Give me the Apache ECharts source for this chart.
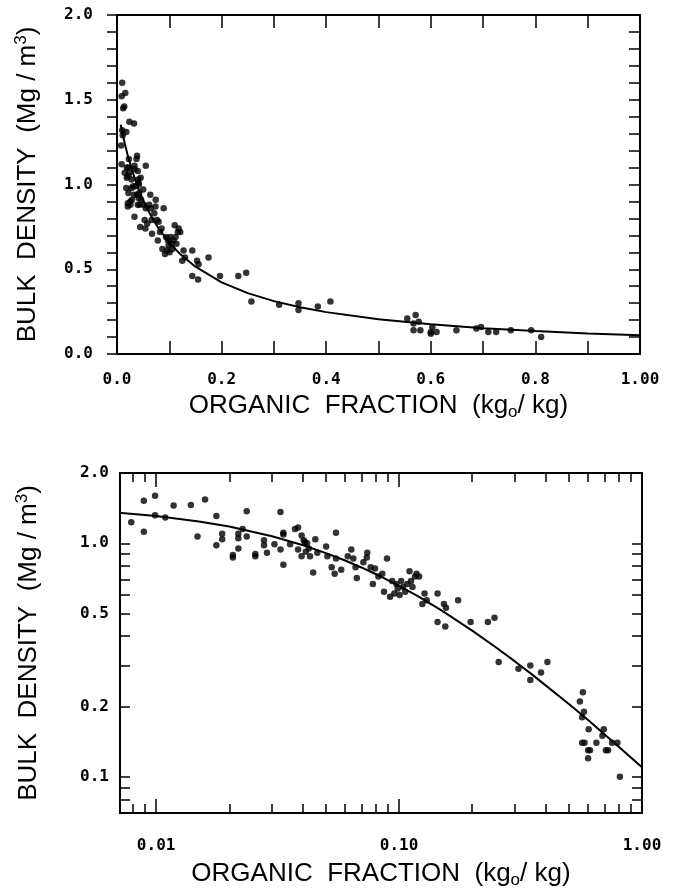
<!DOCTYPE html>
<html>
<head>
<meta charset="utf-8">
<script src="https://cdn.jsdelivr.net/npm/echarts@6/dist/echarts.min.js"></script>
<style>
  html, body { margin: 0; padding: 0; background: #fff; }
  #bulk-density { width: 674px; height: 890px; }
</style>
</head>
<body>
<div id="bulk-density"></div>
<script>
// measured samples (kg organic / kg, Mg/m3)
const organicFraction = [
  0.0079, 0.0089, 0.0089, 0.0099, 0.0099, 0.0109, 0.0118, 0.0139, 0.0148, 0.0159,
  0.0177, 0.0177, 0.0187, 0.0187, 0.0207, 0.0207, 0.0218, 0.0218, 0.0218, 0.0227,
  0.0236, 0.0236, 0.0256, 0.0256, 0.0278, 0.0278, 0.0286, 0.0307, 0.0325, 0.0325,
  0.0334, 0.0334, 0.0334, 0.0356, 0.0373, 0.0384, 0.0384, 0.0397, 0.0397, 0.0405,
  0.0410, 0.0413, 0.0418, 0.0425, 0.0430, 0.0443, 0.0452, 0.0461, 0.0501, 0.0507,
  0.0528, 0.0543, 0.0550, 0.0550, 0.0578, 0.0615, 0.0636, 0.0648, 0.0662, 0.0670,
  0.0713, 0.0736, 0.0740, 0.0764, 0.0780, 0.0796, 0.0822, 0.0853, 0.0867, 0.0892,
  0.0918, 0.0937, 0.0956, 0.0975, 0.0987, 0.1005, 0.1020, 0.1038, 0.1060, 0.1080,
  0.1104, 0.1120, 0.1136, 0.1164, 0.1180, 0.1209, 0.1247, 0.1273, 0.1300, 0.144,
  0.144, 0.153, 0.155, 0.156, 0.175, 0.197, 0.232, 0.247, 0.257, 0.310,
  0.347, 0.347, 0.384, 0.408, 0.555, 0.571, 0.567, 0.577, 0.567, 0.580,
  0.603, 0.600, 0.611, 0.600, 0.649, 0.687, 0.696, 0.710, 0.725, 0.753,
  0.792, 0.811
];
const bulkDensity = [
  1.23, 1.52, 1.12, 1.60, 1.32, 1.29, 1.45, 1.46, 1.07, 1.54,
  1.31, 0.98, 1.10, 1.04, 0.87, 0.89, 0.95, 1.10, 1.05, 1.15,
  1.37, 1.07, 0.90, 0.88, 1.03, 0.98, 0.91, 0.99, 1.36, 0.94,
  1.11, 1.09, 0.81, 0.99, 1.15, 1.17, 0.94, 1.08, 0.88, 1.03,
  1.01, 0.92, 1.00, 0.95, 0.88, 0.75, 1.04, 0.91, 0.97, 0.88,
  0.79, 0.74, 1.11, 0.86, 0.77, 0.88, 0.94, 0.86, 0.79, 0.71,
  0.83, 0.87, 0.91, 0.79, 0.67, 0.78, 0.72, 0.74, 0.62, 0.86,
  0.59, 0.69, 0.61, 0.67, 0.64, 0.60, 0.69, 0.65, 0.62, 0.67,
  0.76, 0.69, 0.65, 0.72, 0.74, 0.72, 0.55, 0.61, 0.57, 0.61,
  0.46, 0.55, 0.44, 0.53, 0.57, 0.46, 0.46, 0.48, 0.31, 0.29,
  0.30, 0.26, 0.28, 0.31, 0.21, 0.23, 0.18, 0.19, 0.14, 0.14,
  0.16, 0.13, 0.13, 0.12, 0.14, 0.15, 0.16, 0.13, 0.13, 0.14,
  0.14, 0.10
];

// fitted curve
const fitFraction = [0.007, 0.01, 0.015, 0.02, 0.03, 0.04, 0.05, 0.06, 0.07, 0.08, 0.1, 0.12,
  0.15, 0.2, 0.25, 0.3, 0.35, 0.4, 0.5, 0.6, 0.7, 0.8, 0.9, 1.0];
const fitDensity = [1.353, 1.308, 1.240, 1.179, 1.072, 0.984, 0.908, 0.844, 0.788, 0.739, 0.657, 0.592,
  0.515, 0.423, 0.359, 0.312, 0.276, 0.247, 0.205, 0.175, 0.152, 0.135, 0.121, 0.110];

// linear plot ticks / labels
const linXTicks = [0, 0.1, 0.2, 0.3, 0.4, 0.5, 0.6, 0.7, 0.8, 0.9, 1.0];
const linXLabels = [0, 0.2, 0.4, 0.6, 0.8, 1.0];
const linYTicks = [0, 0.1, 0.2, 0.3, 0.4, 0.5, 0.6, 0.7, 0.8, 0.9, 1.0, 1.1, 1.2, 1.3, 1.4, 1.5, 1.6, 1.7, 1.8, 1.9, 2.0];
const linYLabels = [0, 0.5, 1.0, 1.5, 2.0];

// log plot ticks / labels
const logXTicks = [0.008, 0.009, 0.02, 0.03, 0.04, 0.05, 0.06, 0.07, 0.08, 0.09,
  0.2, 0.3, 0.4, 0.5, 0.6, 0.7, 0.8, 0.9];
const logXMajorTicks = [0.01, 0.1];
const logXLabels = [0.01, 0.1, 1.0];
const logYTicks = [0.08, 0.09, 0.1, 0.2, 0.3, 0.4, 0.5, 0.6, 0.7, 0.8, 0.9, 1.0];
const logYLabels = [0.1, 0.2, 0.5, 1.0, 2.0];

const points = organicFraction.map((x, i) => [x, bulkDensity[i]]);
const fitLine = fitFraction.map((x, i) => [x, fitDensity[i]]);

const labelFont = {
  color: '#000',
  fontFamily: 'DejaVu Sans Mono',
  fontWeight: 'bold',
  fontSize: 16
};
const nameFont = {
  color: '#000',
  fontFamily: 'Liberation Sans',
  fontSize: 26,
  lineHeight: 30,
  rich: {
    sup: { fontFamily: 'Liberation Sans', fontSize: 17, lineHeight: 16, verticalAlign: 'top', color: '#000' },
    sub: { fontFamily: 'Liberation Sans', fontSize: 17, lineHeight: 16, verticalAlign: 'bottom', color: '#000' }
  }
};
const xName = 'ORGANIC  FRACTION  (kg{sub|o}/ kg)';
const yName = 'BULK  DENSITY  (Mg / m{sup|3})';
const tickLine = { color: '#000', width: 1.5 };

function axisBase(gridIndex, position, extra) {
  return Object.assign({
    gridIndex: gridIndex,
    position: position,
    axisLine: { show: true, onZero: false, lineStyle: { color: '#000', width: 2 } },
    splitLine: { show: false },
    axisLabel: { show: false }
  }, extra);
}

let chart = echarts.init(document.getElementById('bulk-density'));
const option = {
  animation: false,
  backgroundColor: '#fff',
  grid: [
    { left: 117, top: 15, width: 523, height: 339 },
    { left: 120, top: 473, width: 522, height: 340 }
  ],
  xAxis: [
    axisBase(0, 'bottom', {
      type: 'value', min: 0, max: 1,
      axisTick: { inside: true, length: 13, customValues: linXTicks, lineStyle: tickLine },
      axisLabel: Object.assign({
        show: true, margin: 18, customValues: linXLabels,
        formatter: v => (v === 1 ? '1.00' : v.toFixed(1))
      }, labelFont),
      name: xName, nameLocation: 'middle', nameGap: 37, nameTextStyle: nameFont
    }),
    axisBase(0, 'top', {
      type: 'value', min: 0, max: 1,
      axisTick: { inside: true, length: 13, customValues: linXTicks, lineStyle: tickLine }
    }),
    axisBase(1, 'bottom', {
      type: 'log', logBase: 10, min: 0.0071, max: 1,
      axisTick: { inside: true, length: 9, customValues: logXTicks, lineStyle: tickLine },
      axisLabel: Object.assign({
        show: true, margin: 25, customValues: logXLabels,
        formatter: v => v.toFixed(2)
      }, labelFont),
      name: xName, nameLocation: 'middle', nameGap: 46, nameTextStyle: nameFont
    }),
    axisBase(1, 'top', {
      type: 'log', logBase: 10, min: 0.0071, max: 1,
      axisTick: { inside: true, length: 9, customValues: logXTicks, lineStyle: tickLine }
    }),
    // longer decade ticks
    axisBase(1, 'bottom', {
      type: 'log', logBase: 10, min: 0.0071, max: 1,
      axisTick: { inside: true, length: 14, customValues: logXMajorTicks, lineStyle: tickLine }
    }),
    axisBase(1, 'top', {
      type: 'log', logBase: 10, min: 0.0071, max: 1,
      axisTick: { inside: true, length: 14, customValues: logXMajorTicks, lineStyle: tickLine }
    })
  ],
  yAxis: [
    axisBase(0, 'left', {
      type: 'value', min: 0, max: 2,
      axisTick: { inside: false, length: 10, customValues: linYTicks, lineStyle: tickLine },
      axisLabel: Object.assign({
        show: true, margin: 24, customValues: linYLabels,
        formatter: v => v.toFixed(1)
      }, labelFont),
      name: yName, nameLocation: 'middle', nameGap: 74, nameTextStyle: nameFont
    }),
    axisBase(0, 'right', {
      type: 'value', min: 0, max: 2,
      axisTick: { inside: true, length: 11, customValues: linYTicks, lineStyle: tickLine }
    }),
    axisBase(1, 'left', {
      type: 'log', logBase: 10, min: 0.07, max: 2,
      axisTick: { inside: true, length: 10, customValues: logYTicks, lineStyle: tickLine },
      axisLabel: Object.assign({
        show: true, margin: 11, customValues: logYLabels,
        formatter: v => v.toFixed(1)
      }, labelFont),
      name: yName, nameLocation: 'middle', nameGap: 76, nameTextStyle: nameFont
    }),
    axisBase(1, 'right', {
      type: 'log', logBase: 10, min: 0.07, max: 2,
      axisTick: { inside: true, length: 10, customValues: logYTicks, lineStyle: tickLine }
    })
  ],
  series: [
    {
      name: 'samples', type: 'scatter', xAxisIndex: 0, yAxisIndex: 0,
      symbolSize: 6.5, itemStyle: { color: '#000' }, data: points
    },
    {
      name: 'fit', type: 'line', xAxisIndex: 0, yAxisIndex: 0,
      showSymbol: false, smooth: false, lineStyle: { color: '#000', width: 2 }, data: fitLine
    },
    {
      name: 'samples log', type: 'scatter', xAxisIndex: 2, yAxisIndex: 2,
      symbolSize: 6.5, itemStyle: { color: '#000' }, data: points
    },
    {
      name: 'fit log', type: 'line', xAxisIndex: 2, yAxisIndex: 2,
      showSymbol: false, smooth: false, lineStyle: { color: '#000', width: 2 }, data: fitLine
    }
  ]
};
chart.setOption(option);
</script>
</body>
</html>
